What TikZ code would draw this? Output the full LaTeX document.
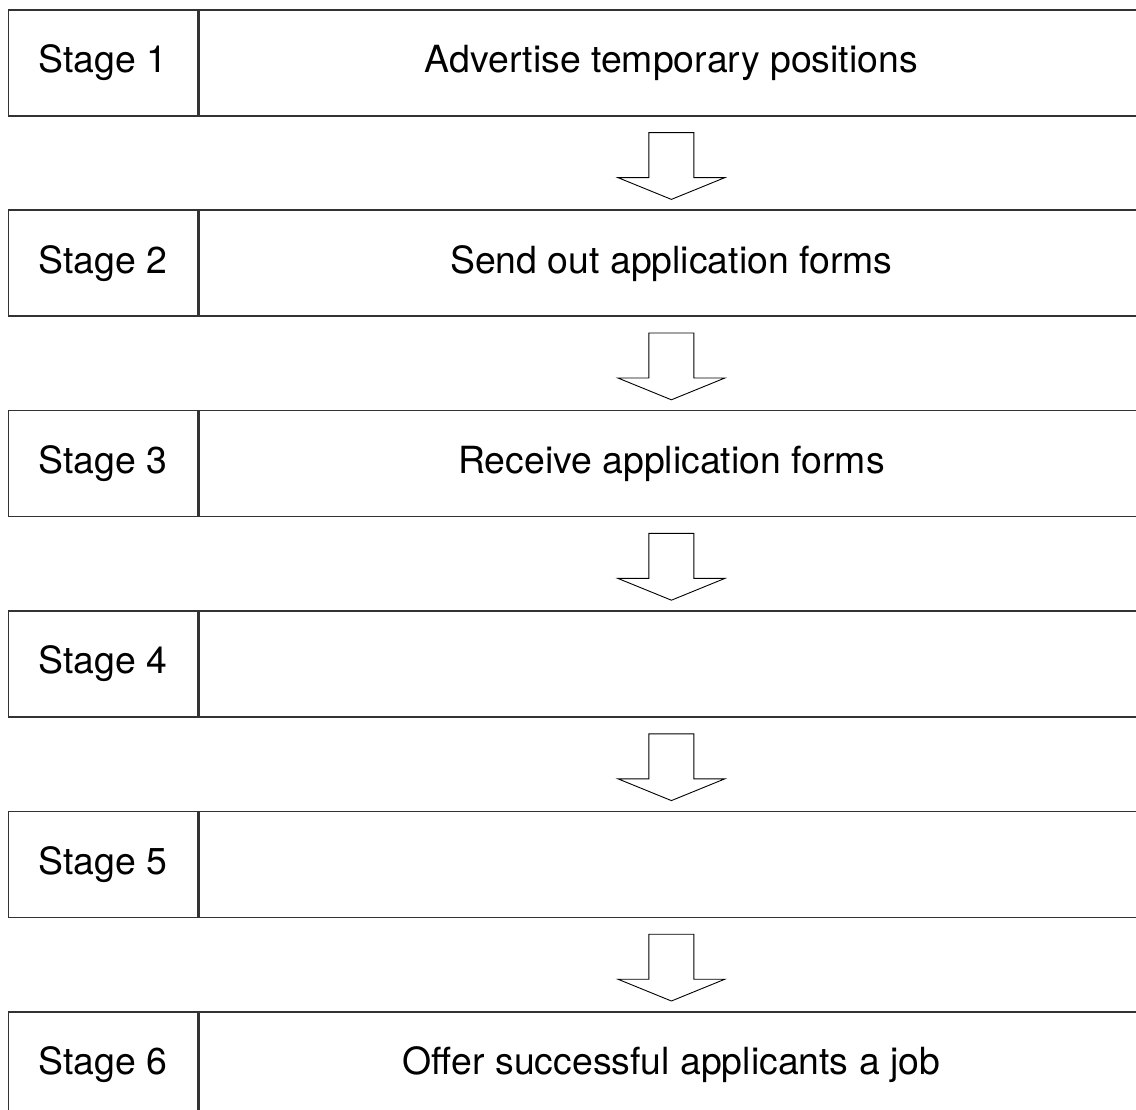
\documentclass[tikz,border=0pt]{standalone}
\usepackage{fontspec}
\setmainfont{TeX Gyre Heros}
\usetikzlibrary{calc}
\begin{document}
\begin{tikzpicture}[x=1pt,y=-1pt,
  cellbox/.style={draw=black!80,line width=1.6pt,minimum height=106pt,inner sep=0pt,anchor=north west,font=\fontsize{37.4}{41}\selectfont},
  stagecell/.style={cellbox,minimum width=189.5pt},
  taskcell/.style={cellbox,minimum width=944pt},
  flowarrow/.style={draw=black,line width=0.9pt,fill=white,line join=miter}]
\clip (0,0) rectangle (1136,1110);
\fill[white] (0,0) rectangle (1136,1110);
\foreach \i/\t in {1/Advertise temporary positions,2/Send out application forms,3/Receive application forms,4/{},5/{},6/Offer successful applicants a job}{
  \node[stagecell] (s\i) at (7.5,{9+200.4*(\i-1)}) {Stage \i};
  \node[taskcell] (t\i) at (s\i.north east) {\t};
}
\foreach \i [evaluate=\i as \j using int(\i+1)] in {1,...,5}{
  \coordinate (top\i) at ($(t\i.south)+(0,16)$);
  \coordinate (tip\i) at ($(t\j.north)+(0,-10)$);
  \draw[flowarrow] ($(top\i)+(-22.5,0)$) -- ($(top\i)+(22.5,0)$) -- ($(top\i)+(22.5,45)$) -- ($(top\i)+(53.5,45)$) -- (tip\i) -- ($(top\i)+(-53.5,45)$) -- ($(top\i)+(-22.5,45)$) -- cycle;
}
\end{tikzpicture}
\end{document}
